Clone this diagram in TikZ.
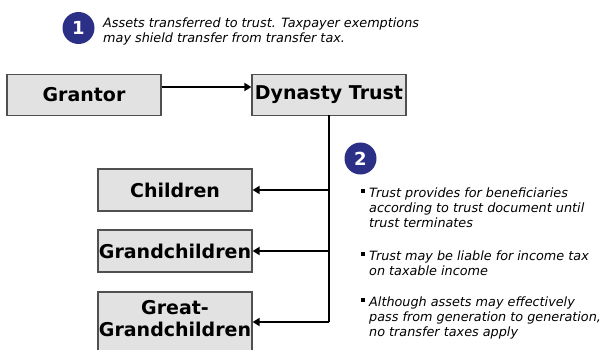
\documentclass[tikz,border=0pt]{standalone}
\usepackage{fontspec}
\setmainfont{DejaVu Sans}
\usetikzlibrary{arrows.meta}
\definecolor{navy}{HTML}{2B3086}
\definecolor{boxfill}{HTML}{E2E2E2}
\definecolor{boxline}{HTML}{505050}
\tikzset{
  gbox/.style={draw=boxline, line width=1.2pt, fill=boxfill, inner sep=0pt,
    font=\fontsize{19}{22}\selectfont\bfseries, align=center},
  numcirc/.style={circle, fill=navy, text=white, minimum size=32pt, inner sep=0pt,
    font=\fontsize{18}{20}\selectfont\bfseries},
  note/.style={font=\fontsize{12.8}{14.6}\selectfont\itshape, align=left, inner sep=0pt, anchor=north west},
  conn/.style={line width=2pt, -{Triangle[length=7pt,width=8pt]}}
}
\begin{document}
\begin{tikzpicture}[x=1pt,y=-1pt]
\useasboundingbox (0,0) rectangle (613,350);
\clip (0,0) rectangle (613,350);
\node[numcirc] (c1) at (78.5,28) {1};
\node[note] (t1) at (103,17.8) {Assets transferred to trust. Taxpayer exemptions\\may shield transfer from transfer tax.};
\node[gbox, minimum width=154pt, minimum height=41pt] (grantor) at (84,95) {Grantor};
\node[gbox, minimum width=154pt, minimum height=41pt] (trust) at (329,95) {Dynasty Trust};
\node[gbox, minimum width=154pt, minimum height=42pt] (children) at (175,190) {Children};
\node[gbox, minimum width=154pt, minimum height=42pt] (grand) at (175,251) {Grandchildren};
\node[gbox, minimum width=154pt, minimum height=70pt] (great) at (175,327) {};
\node[font=\fontsize{19}{22}\selectfont\bfseries, align=center, inner sep=0pt] (greattxt) at (175,319) {Great-\\Grandchildren};
\node[numcirc] (c2) at (360.5,158.5) {2};
\coordinate (jt) at (329,115);
\coordinate (j1) at (329,190);
\coordinate (j2) at (329,251);
\coordinate (j3) at (329,322);
\draw[conn] (grantor.east |- 0,87) -- (trust.west |- 0,87);
\draw[line width=2pt] (jt) -- (j3);
\draw[conn] (j1) -- (children.east);
\draw[conn] (j2) -- (grand.east);
\draw[conn] (j3) -- (great.east |- j3);
\node[note] (b1) at (369,188) {Trust provides for beneficiaries\\according to trust document until\\trust terminates};
\node[note] (b2) at (369,251) {Trust may be liable for income tax\\on taxable income};
\node[note] (b3) at (369,297) {Although assets may effectively\\pass from generation to generation,\\no transfer taxes apply};
\foreach \b in {b1,b2,b3} \fill ([xshift=-8pt,yshift=-5pt]\b.north west) rectangle ++(3.5,-4);
\end{tikzpicture}
\end{document}
